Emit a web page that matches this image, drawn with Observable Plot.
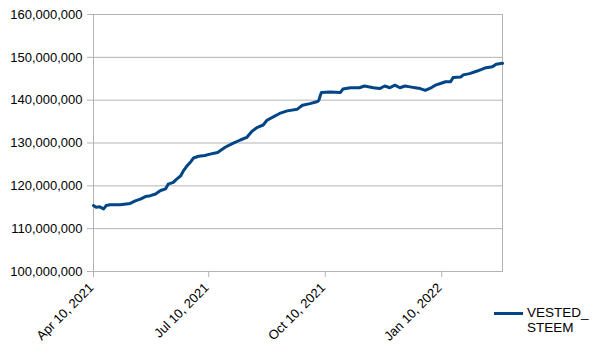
<!DOCTYPE html>
<html><head><meta charset="utf-8">
<script src="https://cdn.jsdelivr.net/npm/d3@7"></script>
<script src="https://cdn.jsdelivr.net/npm/@observablehq/plot@0.6"></script>
<style>
body{margin:0;background:#fff;}
#wrap{position:relative;width:604px;height:354px;font-family:"Liberation Sans",Arial,sans-serif;}
#legend{position:absolute;left:494px;top:305px;display:flex;align-items:flex-start;font-size:13.5px;line-height:15px;color:#000;}
#legend .sw{width:29px;height:3px;background:#004586;margin-top:7px;margin-right:4px;}
</style>
</head><body><div id="wrap"><div id="legend"></div></div>
<script>
const seriesName = "VESTED_STEEM";
const dates = ["2021-04-10","2021-04-12","2021-04-15","2021-04-18","2021-04-20","2021-04-23","2021-05-01","2021-05-09","2021-05-13","2021-05-17","2021-05-21","2021-05-25","2021-05-29","2021-06-02","2021-06-06","2021-06-08","2021-06-12","2021-06-14","2021-06-18","2021-06-20","2021-06-23","2021-06-26","2021-06-28","2021-07-02","2021-07-07","2021-07-11","2021-07-17","2021-07-23","2021-07-29","2021-08-04","2021-08-09","2021-08-13","2021-08-17","2021-08-22","2021-08-25","2021-08-30","2021-09-04","2021-09-10","2021-09-18","2021-09-22","2021-09-28","2021-10-04","2021-10-05","2021-10-06","2021-10-07","2021-10-14","2021-10-22","2021-10-24","2021-10-30","2021-11-06","2021-11-10","2021-11-17","2021-11-22","2021-11-26","2021-11-30","2021-12-04","2021-12-08","2021-12-12","2021-12-16","2021-12-20","2021-12-24","2021-12-28","2022-01-01","2022-01-05","2022-01-09","2022-01-13","2022-01-17","2022-01-19","2022-01-25","2022-01-27","2022-02-01","2022-02-07","2022-02-13","2022-02-19","2022-02-22","2022-02-27"];
const values = [115.4,115.0,115.1,114.6,115.4,115.6,115.6,115.9,116.5,116.9,117.5,117.7,118.1,118.9,119.3,120.4,120.8,121.4,122.4,123.5,124.7,125.7,126.5,126.9,127.1,127.4,127.8,129.0,129.9,130.7,131.3,132.7,133.6,134.2,135.3,136.1,136.9,137.5,137.9,138.8,139.2,139.7,140.0,141.0,141.8,141.9,141.8,142.6,142.9,142.9,143.3,142.9,142.7,143.3,142.9,143.5,142.9,143.3,143.1,142.9,142.7,142.3,142.8,143.5,143.9,144.3,144.3,145.3,145.4,145.9,146.2,146.8,147.5,147.8,148.4,148.6].map(v => v * 1e6);
const yTicks = [100e6,110e6,120e6,130e6,140e6,150e6,160e6];
const xTicks = ["2021-04-10","2021-07-10","2021-10-10","2022-01-10"];
const xDomain = ["2021-04-10","2022-02-27"];

const data = dates.map((d, i) => ({date: new Date(d + "T00:00:00Z"), value: values[i]}));
const xTickDates = xTicks.map(d => new Date(d + "T00:00:00Z"));
const fmt = d3.utcFormat("%b %d, %Y");

const chart = Plot.plot({
  width: 604,
  height: 354,
  marginLeft: 93,
  marginRight: 102,
  marginTop: 14,
  marginBottom: 83,
  style: {fontFamily: '"Liberation Sans", Arial, sans-serif', fontSize: "13px", color: "#000", background: "#fff"},
  x: {type: "utc", domain: xDomain.map(d => new Date(d + "T00:00:00Z"))},
  y: {domain: [100e6, 160e6]},
  marks: [
    Plot.gridY(yTicks, {stroke: "#b3b3b3", strokeOpacity: 1}),
    Plot.frame({stroke: "#b3b3b3"}),
    Plot.axisY(yTicks, {tickFormat: d3.format(","), tickSize: 6, tickPadding: 5, stroke: "#b3b3b3", label: null, fontSize: 13}),
    Plot.axisX(xTickDates, {tickFormat: () => "", tickSize: 6, stroke: "#b3b3b3", label: null}),
    Plot.axisX(xTickDates, {tickFormat: fmt, tickSize: 0, tickPadding: 14, dx: -2, tickRotate: -45, label: null, fontSize: 13}),
    Plot.line(data, {x: "date", y: "value", stroke: "#004586", strokeWidth: 3, strokeLinejoin: "round"})
  ]
});
const wrap = document.getElementById("wrap");
wrap.insertBefore(chart, wrap.firstChild);

const idx = seriesName.indexOf("_") + 1;
document.getElementById("legend").innerHTML =
  '<div class="sw"></div><div>' + seriesName.slice(0, idx) + '<br>' + seriesName.slice(idx) + '</div>';
</script>
</body></html>
